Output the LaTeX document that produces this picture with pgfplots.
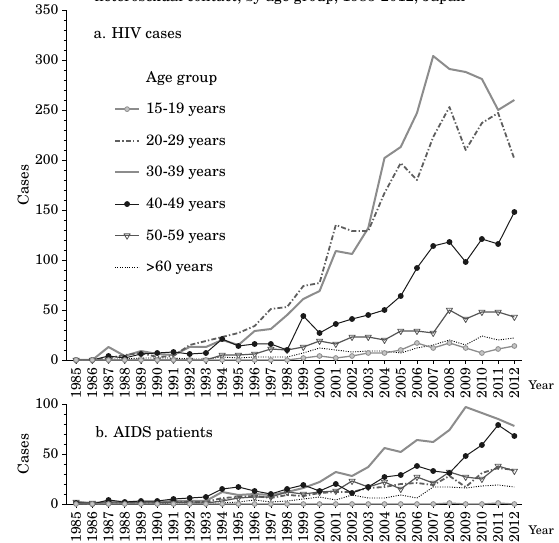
\documentclass[border=0pt]{standalone}
\usepackage{fontspec}
\setmainfont{texgyreschola-regular.otf}
\usepackage{pgfplots}
\pgfplotsset{compat=1.18}
\usepackage{pgfplotstable}

\definecolor{cA}{HTML}{8C8C8C}
\definecolor{cAfill}{HTML}{C4C4C4}
\definecolor{cB}{HTML}{5E5E5E}
\definecolor{cD}{HTML}{1A1A1A}
\definecolor{cE}{HTML}{555555}

\newcommand\tickfont{\fontsize{14bp}{16bp}\selectfont}
\newcommand\labfont{\fontsize{15bp}{18bp}\selectfont}

\pgfplotstableread{
year a b c d e f
1985 0 0 0 0 0 0
1986 0 0 0 0 0 0
1987 0 2 13 4 0 1
1988 0 5 4 2 0 1
1989 0 7 9 6 0 2
1990 0 3 6 7 0 2
1991 0 4 5 8 0 2
1992 0 15 13 6 0 1
1993 0 19 13 7 0 1
1994 0 23 20 21 5 3
1995 0 27 15 14 5 2
1996 0 34 29 16 6 3
1997 0 51 31 16 11 3
1998 0 53 45 10 10 3
1999 2 74 61 44 13 7
2000 4 77 69 27 19 12
2001 2 135 109 36 16 10
2002 4 129 106 41 23 8
2003 7 129 132 45 23 9
2004 7 167 202 50 20 9
2005 10 197 213 64 29 7
2006 17 180 247 92 29 12
2007 12 223 304 114 27 15
2008 17 253 291 118 50 20
2009 12 210 288 98 41 15
2010 7 237 281 121 48 24
2011 11 247 250 116 48 20
2012 14 201 260 148 43 22
}\hiv

\pgfplotstableread{
year a b c d e f
1985 0 1 2 1 2 0
1986 0 0 1 0 1 0
1987 0 1 2 4 1 0
1988 0 1 2 2 1 0
1989 0 1 2 3 1 0
1990 0 1 2 3 1 0
1991 0 2 3 5 2 1
1992 0 2 3 6 1 1
1993 0 2 3 7 1 1
1994 0 6 12 15 3 1
1995 0 7 9 17 6 2
1996 0 8 10 13 7 4
1997 0 6 9 10 7 2
1998 0 9 12 15 12 3
1999 0 8 16 19 10 5
2000 0 11 22 13 12 7
2001 0 12 32 20 13 4
2002 0 12 28 11 23 9
2003 0 16 37 17 17 6
2004 0 17 56 27 22 6
2005 0 20 52 29 15 9
2006 0 21 64 38 27 6
2007 0 19 62 33 21 17
2008 1 28 74 31 32 17
2009 0 17 97 48 27 16
2010 0 31 91 59 25 18
2011 1 36 85 79 38 19
2012 0 34 78 68 33 17
}\aids

\pgfplotsset{
  common/.style={
    scale only axis, width=456bp,
    xmin=1984.38, xmax=2012.47,
    axis lines*=left,
    clip=false,
    xtick={1985,...,2012},
    tick align=outside,
    major tick length=4bp, minor tick length=2.5bp,
    xticklabel style={rotate=90, anchor=east, font=\tickfont},
    yticklabel style={font=\tickfont},
    /pgf/number format/1000 sep={},
    /pgf/number format/assume math mode=true,
    ylabel={Cases},
    ylabel style={font=\labfont, at={(axis description cs:-0.094,0.5)}, anchor=center},
    tick style={black, line width=0.6bp},
    axis line style={black, line width=0.8bp},
    every axis plot/.append style={line join=round},
  },
  g1519/.style={color=cA, line width=1.3bp, mark=*, mark size=2.4bp, mark options={fill=cAfill, draw=cA, line width=0.8bp, solid}},
  g2029/.style={color=cB, line width=1.8bp, dash pattern=on 5bp off 2.2bp on 1.4bp off 2.2bp, no marks},
  g3039/.style={color=cA, line width=2bp, no marks},
  g4049/.style={color=cD, line width=1bp, mark=*, mark size=2.4bp, mark options={fill=cD, solid}},
  g5059/.style={color=cE, line width=1.2bp, mark=triangle, mark size=3.6bp, mark options={rotate=180, fill=white, solid, line width=0.8bp}},
  g60/.style={color=black, line width=0.9bp, dash pattern=on 1bp off 1.4bp, no marks},
}

\begin{document}
\begin{tikzpicture}
\path[use as bounding box] (0,0) rectangle (559bp,543bp);
\node[anchor=base, font=\labfont] at (280bp,541.5bp) {heterosexual contact, by age group, 1985-2012, Japan};

\begin{axis}[common,
  at={(66bp,183bp)}, anchor=south west,
  height=350bp, ymin=0, ymax=350,
  ytick={0,50,...,350}, minor y tick num=4,
  legend style={at={(rel axis cs:0.105,0.832)}, anchor=north west, draw=none, fill=none,
    font=\labfont, row sep=15.6bp, inner sep=0pt, column sep=4bp},
  legend cell align=left,
  legend image code/.code={\draw[mark repeat=2,mark phase=2,#1] plot coordinates {(0bp,0bp) (12bp,0bp) (24bp,0bp)};},
]
\addlegendimage{empty legend}
\addlegendimage{g1519}
\addlegendimage{g2029}
\addlegendimage{g3039}
\addlegendimage{g4049}
\addlegendimage{g5059}
\addlegendimage{g60}
\addplot[g3039, forget plot] table[x=year,y=c] {\hiv};
\addplot[g2029, forget plot] table[x=year,y=b] {\hiv};
\addplot[g60, forget plot] table[x=year,y=f] {\hiv};
\addplot[g5059, forget plot] table[x=year,y=e] {\hiv};
\addplot[g4049, forget plot] table[x=year,y=d] {\hiv};
\addplot[g1519, forget plot] table[x=year,y=a] {\hiv};
\legend{Age group,15-19 years,20-29 years,30-39 years,40-49 years,50-59 years,>60 years}
\node[anchor=west, font=\labfont] at (rel axis cs:0.053,0.934) {a. HIV cases};
\node[anchor=west, font=\fontsize{12bp}{14bp}\selectfont, xshift=3bp, yshift=-25bp] at (rel axis cs:1,0) {Year};
\end{axis}

\begin{axis}[common,
  at={(66bp,39bp)}, anchor=south west,
  height=100bp, ymin=0, ymax=100,
  ytick={0,50,100}, minor y tick num=4,
]
\addplot[g3039] table[x=year,y=c] {\aids};
\addplot[g2029] table[x=year,y=b] {\aids};
\addplot[g60] table[x=year,y=f] {\aids};
\addplot[g5059] table[x=year,y=e] {\aids};
\addplot[g4049] table[x=year,y=d] {\aids};
\addplot[g1519] table[x=year,y=a] {\aids};
\node[anchor=west, font=\labfont] at (rel axis cs:0.057,0.71) {b. AIDS patients};
\node[anchor=west, font=\fontsize{12bp}{14bp}\selectfont, xshift=3bp, yshift=-26bp] at (rel axis cs:1,0) {Year};
\end{axis}
\end{tikzpicture}
\end{document}
